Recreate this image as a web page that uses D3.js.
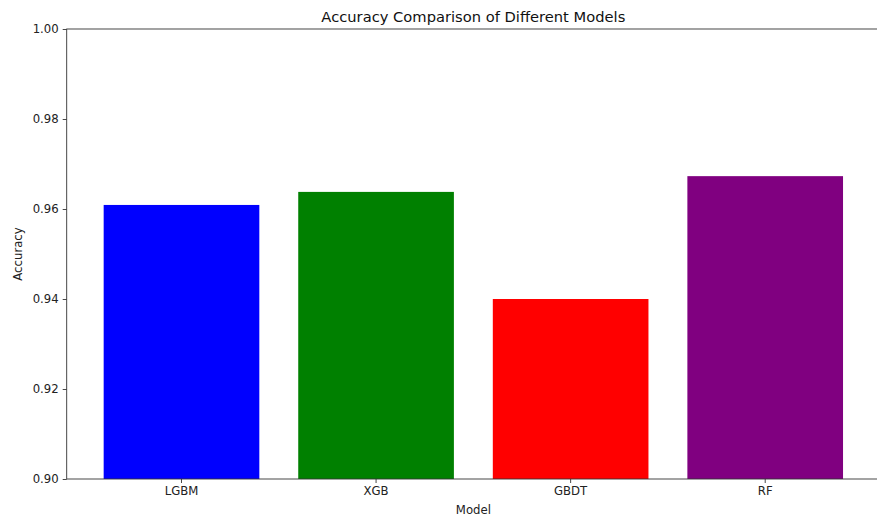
<!DOCTYPE html>
<html>
<head>
<meta charset="utf-8">
<script src="https://cdn.jsdelivr.net/npm/d3@7"></script>
<style>
  body { margin: 0; background: #fff; }
  svg { display: block; font-family: "DejaVu Sans", sans-serif; }
</style>
</head>
<body>
<div id="chart"></div>
<script>
// data
const models = ["LGBM", "XGB", "GBDT", "RF"];
const accuracy = [0.9609, 0.9638, 0.9400, 0.9673];
const barColors = ["#0000ff", "#008000", "#ff0000", "#800080"];
const yTicks = [0.90, 0.92, 0.94, 0.96, 0.98, 1.00];

const W = 877, H = 517;
const plot = { left: 66.7, right: 880, top: 29, bottom: 479 };

const svg = d3.select("#chart").append("svg")
  .attr("width", W)
  .attr("height", H);

// scales
const x = d3.scaleBand()
  .domain(models)
  .range([plot.left, plot.right])
  .paddingInner(0.2)
  .paddingOuter(0.19);

const y = d3.scaleLinear()
  .domain([0.90, 1.00])
  .range([plot.bottom, plot.top]);

// bars
svg.selectAll("rect.bar")
  .data(models.map((m, i) => ({ model: m, value: accuracy[i], color: barColors[i] })))
  .join("rect")
  .attr("class", "bar")
  .attr("x", d => x(d.model))
  .attr("width", x.bandwidth())
  .attr("y", d => y(d.value))
  .attr("height", d => plot.bottom - y(d.value))
  .attr("fill", d => d.color);

// axes
const yAxis = svg.append("g")
  .attr("transform", `translate(${plot.left},0)`)
  .call(d3.axisLeft(y).tickValues(yTicks).tickFormat(d3.format(".2f")).tickSize(4).tickPadding(4));

const xAxis = svg.append("g")
  .attr("transform", `translate(0,${plot.bottom})`)
  .call(d3.axisBottom(x).tickSize(4).tickPadding(4).tickSizeOuter(0));

[xAxis, yAxis].forEach(ax => {
  ax.select(".domain").remove();
  ax.selectAll(".tick line").attr("stroke", "#333").attr("stroke-width", 0.9);
  ax.selectAll(".tick text")
    .attr("fill", "#222")
    .style("font-family", "DejaVu Sans, sans-serif")
    .style("font-size", "11.7px");
});

// spines
svg.append("rect")
  .attr("x", plot.left)
  .attr("y", plot.top)
  .attr("width", plot.right - plot.left)
  .attr("height", plot.bottom - plot.top)
  .attr("fill", "none")
  .attr("stroke", "#333")
  .attr("stroke-width", 0.9);

// title and labels
svg.append("text")
  .attr("x", (plot.left + plot.right) / 2)
  .attr("y", 21.5)
  .attr("text-anchor", "middle")
  .style("font-size", "14.7px")
  .attr("fill", "#111")
  .text("Accuracy Comparison of Different Models");

svg.append("text")
  .attr("x", (plot.left + plot.right) / 2)
  .attr("y", 514)
  .attr("text-anchor", "middle")
  .style("font-size", "11.7px")
  .attr("fill", "#222")
  .text("Model");

svg.append("text")
  .attr("transform", `translate(21.5,${(plot.top + plot.bottom) / 2}) rotate(-90)`)
  .attr("text-anchor", "middle")
  .style("font-size", "11.7px")
  .attr("fill", "#222")
  .text("Accuracy");
</script>
</body>
</html>
